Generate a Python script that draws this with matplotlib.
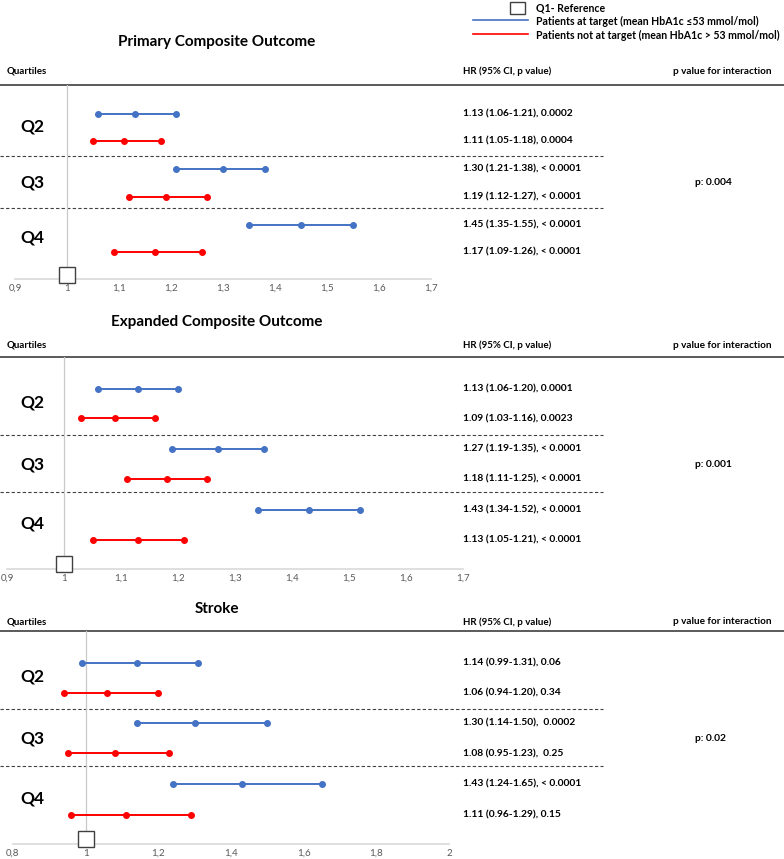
import matplotlib
matplotlib.use('Agg')
import matplotlib.pyplot as plt
from matplotlib.patches import Rectangle

plt.rcParams['font.family'] = ['Lato', 'DejaVu Sans']

W, H = 784, 859

quartiles = ['Q2', 'Q3', 'Q4']

# Primary composite outcome
prim_tgt_hr = [1.13, 1.30, 1.45]
prim_tgt_lo = [1.06, 1.21, 1.35]
prim_tgt_hi = [1.21, 1.38, 1.55]
prim_tgt_p = ['0.0002', '< 0.0001', '< 0.0001']
prim_not_hr = [1.11, 1.19, 1.17]
prim_not_lo = [1.05, 1.12, 1.09]
prim_not_hi = [1.18, 1.27, 1.26]
prim_not_p = ['0.0004', '< 0.0001', '< 0.0001']
prim_inter = 'p: 0.004'

# Expanded composite outcome
exp_tgt_hr = [1.13, 1.27, 1.43]
exp_tgt_lo = [1.06, 1.19, 1.34]
exp_tgt_hi = [1.20, 1.35, 1.52]
exp_tgt_p = ['0.0001', '< 0.0001', '< 0.0001']
exp_not_hr = [1.09, 1.18, 1.13]
exp_not_lo = [1.03, 1.11, 1.05]
exp_not_hi = [1.16, 1.25, 1.21]
exp_not_p = ['0.0023', '< 0.0001', '< 0.0001']
exp_inter = 'p: 0.001'

# Stroke
str_tgt_hr = [1.14, 1.30, 1.43]
str_tgt_lo = [0.99, 1.14, 1.24]
str_tgt_hi = [1.31, 1.50, 1.65]
str_tgt_p = ['0.06', ' 0.0002', '< 0.0001']
str_not_hr = [1.06, 1.08, 1.11]
str_not_lo = [0.94, 0.95, 0.96]
str_not_hi = [1.20, 1.23, 1.29]
str_not_p = ['0.34', ' 0.25', '0.15']
str_inter = 'p: 0.02'

ticks_a = [0.9, 1.0, 1.1, 1.2, 1.3, 1.4, 1.5, 1.6, 1.7]
ticks_b = [0.8, 1.0, 1.2, 1.4, 1.6, 1.8, 2.0]

BLUE = '#4472C4'
RED = '#FF0000'

panels = [
    dict(title='Primary Composite Outcome',
         tgt=(prim_tgt_hr, prim_tgt_lo, prim_tgt_hi, prim_tgt_p),
         nott=(prim_not_hr, prim_not_lo, prim_not_hi, prim_not_p),
         inter=prim_inter, ticks=ticks_a,
         title_y=42, head_y=71, line_y=85, axis_y=279, x0=15, x1=431),
    dict(title='Expanded Composite Outcome',
         tgt=(exp_tgt_hr, exp_tgt_lo, exp_tgt_hi, exp_tgt_p),
         nott=(exp_not_hr, exp_not_lo, exp_not_hi, exp_not_p),
         inter=exp_inter, ticks=ticks_a,
         title_y=322, head_y=345, line_y=357, axis_y=569, x0=7, x1=463),
    dict(title='Stroke',
         tgt=(str_tgt_hr, str_tgt_lo, str_tgt_hi, str_tgt_p),
         nott=(str_not_hr, str_not_lo, str_not_hi, str_not_p),
         inter=str_inter, ticks=ticks_b,
         title_y=609, head_y=622, line_y=631, axis_y=844, x0=13, x1=449),
]

# row positions as fraction of the panel height (0 = header line, 1 = axis)
blue_rows = [0.15, 0.434, 0.72]
red_rows = [0.29, 0.575, 0.862]
dash_rows = [0.367, 0.635]
q_rows = [0.215, 0.505, 0.785]
box_row = 0.977

fig = plt.figure(figsize=(W / 100, H / 100), dpi=100)
bg = fig.add_axes([0, 0, 1, 1])
bg.set_xlim(0, W)
bg.set_ylim(H, 0)
bg.axis('off')

for p in panels:
    top, bot = p['line_y'], p['axis_y']

    def ypx(f):
        return top + f * (bot - top)

    # titles and headers
    bg.text(217, p['title_y'], p['title'], ha='center', va='center',
            fontsize=11, fontweight='bold')
    bg.text(7, p['head_y'], 'Quartiles', ha='left', va='center', fontsize=7, fontweight='bold')
    bg.text(463, p['head_y'], 'HR (95% CI, p value)', ha='left', va='center',
            fontsize=7, fontweight='bold')
    bg.text(673, p['head_y'], 'p value for interaction', ha='left', va='center',
            fontsize=7.2, fontweight='bold')
    bg.plot([0, W], [top, top], color='#4d4d4d', lw=1.3)
    for f in dash_rows:
        bg.plot([0, 603], [ypx(f), ypx(f)], color='#404040', lw=0.8, ls=(0, (3, 2)))

    for i, q in enumerate(quartiles):
        bg.text(20, ypx(q_rows[i]), q, ha='left', va='center', fontsize=12.5, fontweight='bold')
        hr, lo, hi, pv = p['tgt']
        bg.text(463, ypx(blue_rows[i]), f'{hr[i]:.2f} ({lo[i]:.2f}-{hi[i]:.2f}), {pv[i]}',
                ha='left', va='center', fontsize=7.4, fontweight='bold')
        hr, lo, hi, pv = p['nott']
        bg.text(463, ypx(red_rows[i]), f'{hr[i]:.2f} ({lo[i]:.2f}-{hi[i]:.2f}), {pv[i]}',
                ha='left', va='center', fontsize=7.4, fontweight='bold')
    bg.text(695, ypx(q_rows[1]), p['inter'], ha='left', va='center', fontsize=7.4, fontweight='bold')

    # forest axes
    ax = fig.add_axes([p['x0'] / W, 1 - bot / H, (p['x1'] - p['x0']) / W, (bot - top) / H])
    ax.set_facecolor('none')
    ax.set_xlim(p['ticks'][0], p['ticks'][-1])
    ax.set_ylim(1, 0)
    for s in ['top', 'left', 'right']:
        ax.spines[s].set_visible(False)
    ax.spines['bottom'].set_color('#d9d9d9')
    ax.spines['bottom'].set_linewidth(1.2)
    ax.set_yticks([])
    ax.set_xticks(p['ticks'])
    ax.set_xticklabels([f'{t:g}'.replace('.', ',') for t in p['ticks']])
    ax.tick_params(axis='x', length=0, pad=3.5, labelsize=7, labelcolor='#595959')
    ax.axvline(1, color='#c8c8c8', lw=0.9, zorder=1)

    for rows, (hr, lo, hi, pv), col in [(blue_rows, p['tgt'], BLUE), (red_rows, p['nott'], RED)]:
        for i in range(len(quartiles)):
            ax.plot([lo[i], hr[i], hi[i]], [rows[i]] * 3, '-o', color=col, lw=1.4, ms=4, zorder=3)

    ax.plot(1, box_row, marker='s', ms=12, mfc='white', mec='#404040', mew=1,
            clip_on=False, zorder=5)

# legend
bg.add_patch(Rectangle((510, 2), 15, 12, facecolor='white', edgecolor='#404040', lw=1))
bg.text(536, 8, 'Q1- Reference', ha='left', va='center', fontsize=7.6, fontweight='bold')
bg.plot([473, 528], [20, 20], color=BLUE, lw=1.2)
bg.text(536, 21, 'Patients at target (mean HbA1c ≤53 mmol/mol)', ha='left', va='center',
        fontsize=7.6, fontweight='bold')
bg.plot([473, 528], [34, 34], color=RED, lw=1.2)
bg.text(536, 35, 'Patients not at target (mean HbA1c > 53 mmol/mol)', ha='left', va='center',
        fontsize=7.6, fontweight='bold')

plt.savefig('out.png', dpi=100)
